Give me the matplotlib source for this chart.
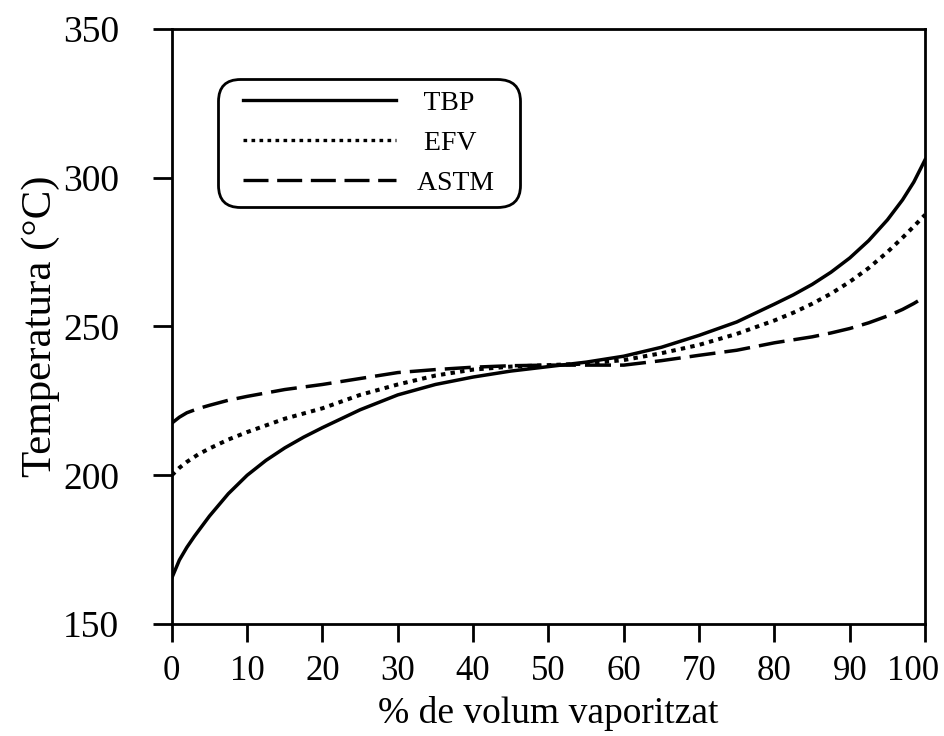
import matplotlib
matplotlib.use("Agg")
import matplotlib.pyplot as plt
import matplotlib.transforms as mtransforms
from matplotlib.legend_handler import HandlerLine2D
from matplotlib.lines import Line2D

plt.rcParams['font.family'] = ['Liberation Serif', 'DejaVu Serif']

x_tbp = [0, 1, 2, 3, 5, 7.5, 10, 12.5, 15, 17.5, 20, 25, 30, 35, 40, 45, 50, 55, 60, 65, 70, 75, 80, 82.5, 85,
         87.5, 90, 92.5, 95, 97, 98.5, 100]
tbp = [165.5, 171.5, 175.8, 179.5, 186.3, 193.8, 200, 205, 209.2, 212.8, 216, 222, 227, 230.5, 233, 235, 236.5,
       238, 240, 243, 247, 251.5, 257.5, 260.6, 264.1, 268.2, 273, 278.8, 285.8, 292.5, 298.5, 306]

x_efv = [0, 1, 2, 3.5, 5, 7.5, 10, 15, 20, 25, 30, 35, 40, 45, 50, 55, 60, 65, 70, 75, 80, 82.5, 85, 87.5, 90,
         92.5, 95, 97, 98.5, 100]
efv = [200, 202.5, 204.5, 207, 209, 212, 214.5, 219, 222.5, 227, 230.5, 233.5, 235.5, 236.5, 237, 237.5, 238.7,
       241, 243.8, 247.5, 252, 254.6, 257.6, 261, 265, 269.6, 275, 279.8, 283.6, 287.5]

x_astm = [0, 1, 2, 3.5, 5, 7.5, 10, 15, 20, 25, 30, 35, 40, 45, 50, 55, 60, 65, 70, 75, 80, 85, 87.5, 90, 92.5,
          95, 97, 98.5, 100]
astm = [217.5, 219.5, 221, 222.4, 223.5, 225.2, 226.5, 228.8, 230.5, 232.5, 234.5, 235.5, 236.3, 236.8, 237, 237,
        237, 238.5, 240.3, 242, 244.5, 246.5, 247.8, 249.3, 251.2, 253.5, 255.7, 257.7, 260]

labels = [' TBP', ' EFV', 'ASTM  ']
xticks = list(range(0, 101, 10))
yticks = [150, 200, 250, 300, 350]

fig = plt.figure(figsize=(9.44, 7.36), dpi=100)
ax = fig.add_axes([0.182, 0.152, 0.798, 0.809])

lw = 2.5
ax.plot(x_tbp, tbp, color='black', lw=lw, linestyle='-', label=labels[0])
ax.plot(x_efv, efv, color='black', lw=lw + 0.4, linestyle=(0, (1.1, 1.3)), label=labels[1])
ax.plot(x_astm, astm, color='black', lw=lw, linestyle=(0, (7.5, 2.6)), label=labels[2])

ax.set_xlim(0, 100)
ax.set_ylim(150, 350)
ax.set_xticks(xticks)
ax.set_yticks(yticks)
for s in ax.spines.values():
    s.set_linewidth(2.0)
ax.tick_params(axis='x', direction='out', length=13, width=2.0, labelsize=25, pad=9)
ax.tick_params(axis='y', direction='out', length=14, width=2.0, labelsize=27, pad=24)

ax.set_xlabel('% de volum vaporitzat', fontsize=27, labelpad=6)
ax.set_ylabel('Temperatura (°C)', fontsize=31, labelpad=2)

leg = ax.legend(loc='upper left', bbox_to_anchor=(0.072, 0.902), fontsize=20, handlelength=6.0,
                handletextpad=0.75, labelspacing=0.52, borderpad=0.12, frameon=True, fancybox=True,
                framealpha=1, edgecolor='black', borderaxespad=0,
                handler_map={Line2D: HandlerLine2D(xpad=0.5)})
leg.get_frame().set_linewidth(2.0)
leg.get_frame().set_boxstyle('round', pad=0.3, rounding_size=0.8)
for h in leg.get_lines():
    h.set_linewidth(2.4)

fig.canvas.draw()
last = ax.get_xticklabels()[-1]
last.set_transform(last.get_transform() + mtransforms.ScaledTranslation(-12 / 100, 0, fig.dpi_scale_trans))

fig.savefig('out.png', dpi=100)
